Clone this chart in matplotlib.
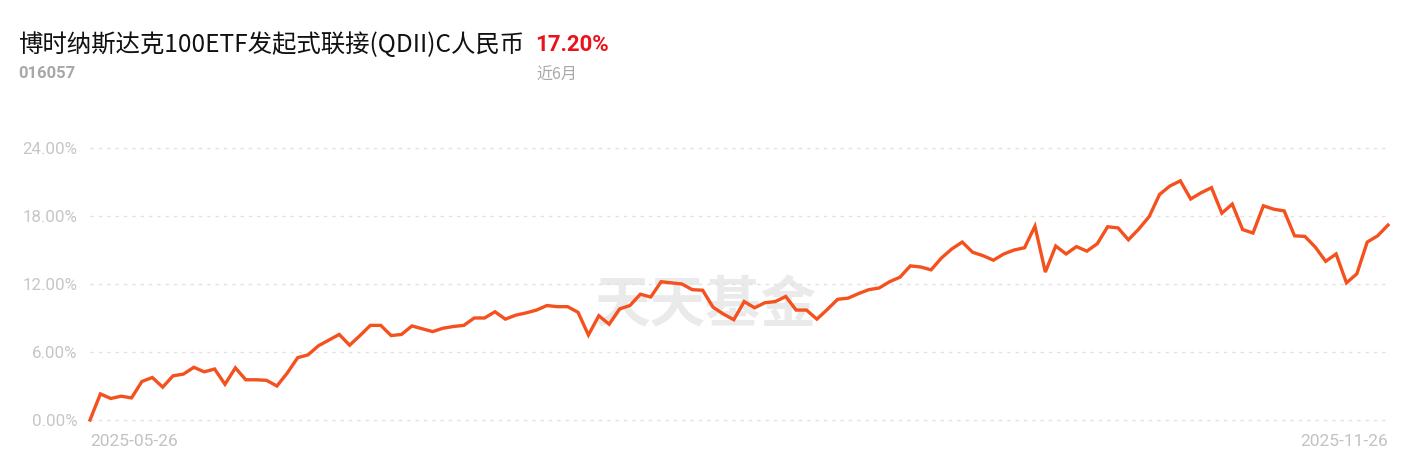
import matplotlib
matplotlib.use("Agg")
import matplotlib.pyplot as plt
from matplotlib.ticker import FuncFormatter

plt.rcParams['font.family'] = ['Noto Sans CJK SC', 'DejaVu Sans']

title = "博时纳斯达克100ETF发起式联接(QDII)C人民币"
code = "016057"
ret_text = "17.20%"
period = "近6月"
watermark = "天天基金"
start_label = "2025-05-26"
end_label = "2025-11-26"
y_ticks = [0, 6, 12, 18, 24]

returns = [
    0.0, 2.3, 1.9, 2.1, 1.95, 3.4, 3.75, 2.9, 3.9, 4.05, 4.65, 4.25, 4.5, 3.15, 4.6,
    3.55, 3.55, 3.5, 3.0, 4.15, 5.5, 5.75, 6.55, 7.05, 7.55, 6.6, 7.45, 8.35, 8.35,
    7.45, 7.55, 8.3, 8.05, 7.8, 8.1, 8.25, 8.35, 9.0, 9.0, 9.55, 8.9, 9.25, 9.45,
    9.7, 10.1, 10.0, 10.0, 9.5, 7.5, 9.2, 8.45, 9.8, 10.1, 11.1, 10.85, 12.2, 12.1,
    12.0, 11.5, 11.45, 9.95, 9.35, 8.85, 10.45, 9.9, 10.35, 10.45, 10.9, 9.7, 9.7,
    8.9, 9.75, 10.65, 10.75, 11.15, 11.5, 11.65, 12.2, 12.6, 13.6, 13.5, 13.25, 14.3,
    15.1, 15.7,
    14.8, 14.5, 14.1, 14.65, 15.0, 15.2, 17.1, 13.05, 15.35, 14.65, 15.3, 14.9, 15.55,
    17.05, 16.95, 15.9, 16.85, 17.95, 19.9, 20.65, 21.1, 19.5, 20.05, 20.5, 18.25,
    19.05, 16.8, 16.5, 18.9, 18.6, 18.45, 16.25, 16.2, 15.25, 14.0, 14.65, 12.1, 12.9,
    15.7, 16.25, 17.2,
]

W, H = 1413, 462
fig = plt.figure(figsize=(W / 100, H / 100), dpi=100)
fig.patch.set_facecolor('white')

x0_px, x1_px = 90, 1388
ymin, ymax = -1, 25
ppu = 68 / 6.0
y_bottom_px = 420 + (0 - ymin) * ppu
y_top_px = 420 - (ymax - 0) * ppu
ax = fig.add_axes([x0_px / W, (H - y_bottom_px) / H, (x1_px - x0_px) / W,
                   (y_bottom_px - y_top_px) / H])

n = len(returns)
xs = list(range(n))
ax.set_xlim(0, n - 1)
ax.set_ylim(ymin, ymax)

for t in y_ticks:
    ax.axhline(t, color='#e2e2e2', lw=1.0, ls=(0, (2.5, 3.5)), zorder=1)

ax.plot(xs, returns, color='#f4511e', lw=2.4, zorder=3, clip_on=False,
        solid_joinstyle='miter')

ax.text(0.474, 0.425, watermark, transform=ax.transAxes, ha='center', va='center',
        fontsize=40, fontweight='bold', color='#eaeaea', zorder=0)

ax.set_yticks(y_ticks)
ax.yaxis.set_major_formatter(FuncFormatter(lambda v, p: f"{v:.2f}%"))
ax.set_xticks([0, n - 1])
ax.set_xticklabels([start_label, end_label])
lbls = ax.get_xticklabels()
lbls[0].set_ha('left')
lbls[1].set_ha('right')
ax.tick_params(axis='y', length=0, labelcolor='#c6c6c6', labelsize=12.2, pad=9)
ax.tick_params(axis='x', length=0, labelcolor='#c2c2c2', labelsize=12.5, pad=2)
for lab in ax.get_xticklabels() + ax.get_yticklabels():
    lab.set_family(['Roboto', 'DejaVu Sans'])
for s in ax.spines.values():
    s.set_visible(False)

fig.text(18 / W, 1 - 45 / H, title, fontsize=17.6, color='#111111', va='center', ha='left')
fig.text(535 / W, 1 - 45 / H, ret_text, fontsize=16, fontweight='bold', color='#e8131b',
         va='center', ha='left', family=['Roboto', 'DejaVu Sans'])
fig.text(18 / W, 1 - 74 / H, code, fontsize=12, fontweight='bold', color='#a8a8a8',
         va='center', ha='left', family=['Roboto', 'DejaVu Sans'])
fig.text(536 / W, 1 - 75 / H, period, fontsize=11.5, color='#a8a8a8', va='center', ha='left')

fig.savefig('out.png', dpi=100, facecolor='white')
